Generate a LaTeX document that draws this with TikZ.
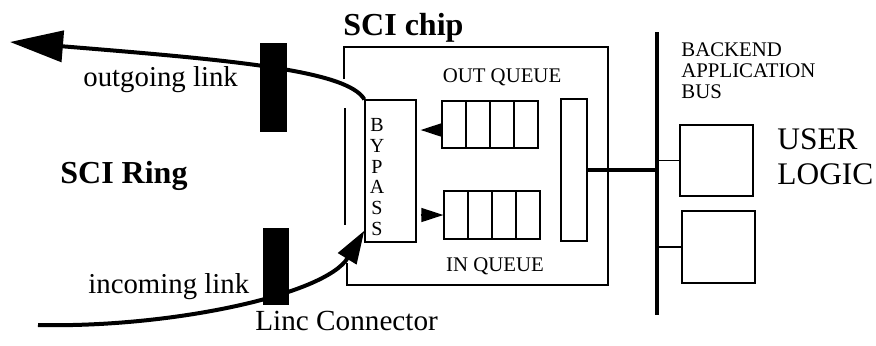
\documentclass[tikz,border=0pt]{standalone}
\usepackage{fontspec}
\setmainfont{Liberation Serif}
\usetikzlibrary{arrows.meta, positioning, calc}

\begin{document}
\begin{tikzpicture}[x=0.5pt, y=-0.5pt]
                    \tikzstyle{box} = [draw, rectangle, line width=0.65pt, inner sep=0pt]
                    \tikzstyle{cell} = [box, minimum width=12pt, minimum height=23.5pt]
                    \tikzstyle{linc} = [fill=black, rectangle, inner sep=0pt]
                    \tikzstyle{link} = [line width=2pt]
                    \tikzstyle{thinline} = [line width=0.65pt]
                    \tikzstyle{qarrow} = [line width=0.65pt, -{Triangle[length=11pt, width=7pt]}]
                    \tikzstyle{biglabel} = [inner sep=0pt, font=\fontsize{14.4}{17}\selectfont]
                    \tikzstyle{smalllabel} = [inner sep=0pt, font=\fontsize{10.4}{10.5}\selectfont]
                    \useasboundingbox (0,0) rectangle (876,345);

                    % chip with bypass, queues and interface
                    \node[box, minimum width=25.5pt, minimum height=71pt] (bypass) at (390.5,171) {};
                    \node[smalllabel, anchor=north, align=center, font=\fontsize{10}{10.4}\selectfont] (bypasslabel) at (377,118) {B\\Y\\P\\A\\S\\S};
                    \foreach \i in {0,...,3} {
                        \node[cell] (outq\i) at (454+24*\i,124.5) {};
                        \node[cell, minimum height=24pt] (inq\i) at (456+24*\i,215) {};
                    }
                    \node[box, minimum width=13pt, minimum height=71pt] (iface) at (574,170) {};
                    \node[smalllabel, anchor=base] (outqlabel) at (502,82) {OUT QUEUE};
                    \node[smalllabel, anchor=base] (inqlabel) at (495,271) {IN QUEUE};
                    \node[biglabel, anchor=base west, font=\fontsize{16}{19}\selectfont\bfseries] (chiplabel) at (343,35) {SCI chip};
                    \draw[thinline] (344,79) -- (344,47) -- (608,47) -- (608,285) -- (347,285) -- (347,263);
                    \draw[thinline] (345,108) -- (345,225);

                    \draw[qarrow, shorten >=2pt] ([yshift=-2.75pt]outq0.west) -- ([yshift=-2.75pt]outq0.west -| bypass.east);
                    \draw[qarrow, shorten <=2pt] (inq0.west -| bypass.east) -- (inq0.west);

                    % ring links
                    \coordinate (outend) at (10,42);
                    \coordinate (instart) at (38,325);
                    \draw[link, -{Triangle[length=26.5pt, width=15.5pt]}] (bypass.north west) .. controls (347,70) and (230,60) .. (outend);
                    \draw[link, -{Triangle[length=16.5pt, width=10.5pt]}] (instart) .. controls (170,328) and (325,295) .. ([yshift=6pt]bypass.south west);
                    \node[linc, minimum width=13.5pt, minimum height=44.5pt] (linctop) at (273.5,87.5) {};
                    \node[linc, minimum width=13pt, minimum height=38.5pt] (lincbot) at (276,266.5) {};
                    \node[biglabel, anchor=base west] (outlabel) at (83,86) {outgoing link};
                    \node[biglabel, anchor=base west, font=\fontsize{16}{19}\selectfont\bfseries] (ringlabel) at (60,183) {SCI Ring};
                    \node[biglabel, anchor=base west] (inlabel) at (88,293) {incoming link};
                    \node[biglabel, anchor=base west, font=\fontsize{14.6}{17}\selectfont] (linclabel) at (255,330) {Linc Connector};

                    % backend bus and user logic
                    \coordinate (bustop) at (657,32);
                    \coordinate (busbot) at (657,315);
                    \draw[line width=2pt] (bustop) -- (busbot);
                    \draw[line width=1.7pt] (iface.east) -- (iface.east -| bustop);
                    \node[box, minimum width=36.5pt, minimum height=35.5pt] (logic1) at (716.5,160.5) {};
                    \node[box, minimum width=36.5pt, minimum height=36pt] (logic2) at (718.5,247) {};
                    \draw[thinline] (logic1.west) -- (logic1.west -| bustop);
                    \draw[thinline] (logic2.west) -- (logic2.west -| bustop);
                    \node[smalllabel, anchor=north west, align=left] (buslabel) at (681,42) {BACKEND\\APPLICATION\\BUS};
                    \node[biglabel, anchor=north west, align=left, font=\fontsize{15.7}{17.5}\selectfont] (logiclabel) at (777,128) {USER\\LOGIC};
                \end{tikzpicture}
\end{document}
